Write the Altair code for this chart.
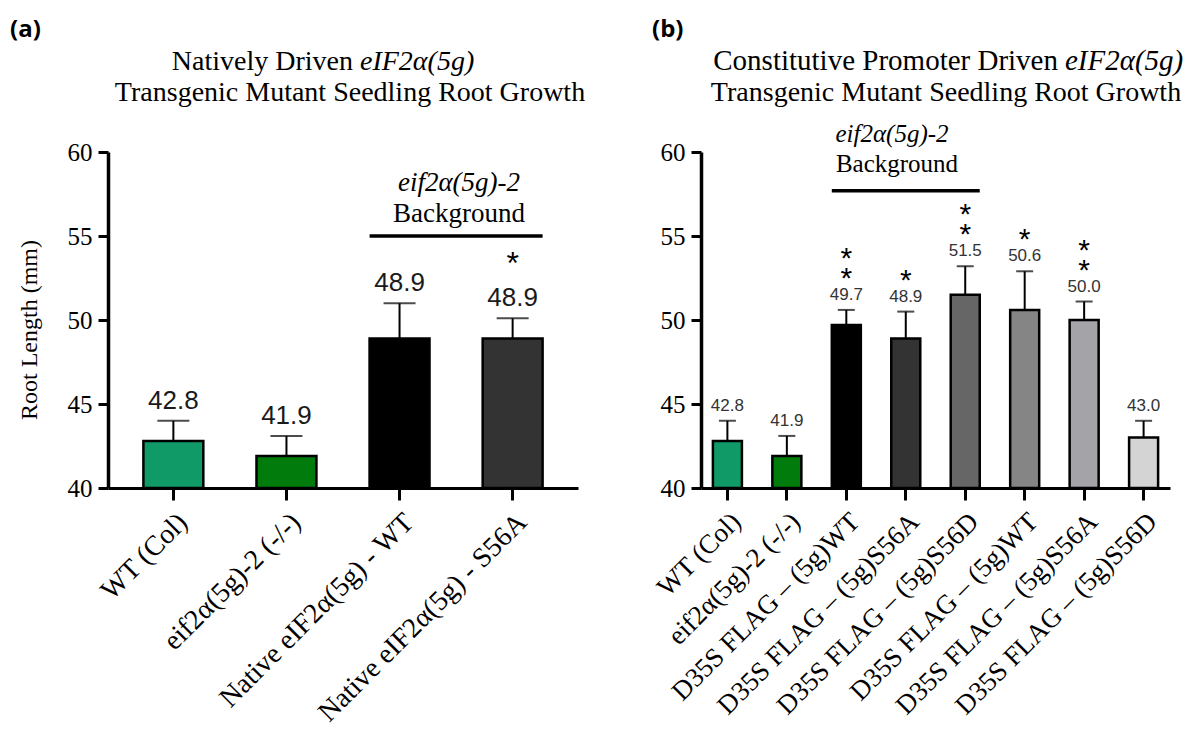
import json
import altair as alt
import pandas as pd

# ---------------- data ----------------
cats_a = ["a1", "a2", "a3", "a4"]
labels_a = ["WT (Col)", "eif2α(5g)-2 (-/-)", "Native eIF2α(5g) - WT", "Native eIF2α(5g) - S56A"]
means_a = [42.8, 41.9, 48.9, 48.9]
upper_a = [44.0, 43.1, 51.0, 50.1]
stars_a = [0, 0, 0, 1]
colors_a = ["#0f9a68", "#017c0c", "#000000", "#333333"]

cats_b = ["b1", "b2", "b3", "b4", "b5", "b6", "b7", "b8"]
labels_b = ["WT (Col)", "eif2α(5g)-2 (-/-)",
            "D35S FLAG – (5g)WT", "D35S FLAG – (5g)S56A", "D35S FLAG – (5g)S56D",
            "D35S FLAG – (5g)WT", "D35S FLAG – (5g)S56A", "D35S FLAG – (5g)S56D"]
means_b = [42.8, 41.9, 49.7, 48.9, 51.5, 50.6, 50.0, 43.0]
upper_b = [44.0, 43.1, 50.6, 50.5, 53.2, 52.9, 51.1, 44.0]
stars_b = [0, 0, 2, 1, 2, 1, 2, 0]
colors_b = ["#0f9a68", "#017c0c", "#000000", "#333333", "#666666", "#858585", "#a3a3a8", "#d4d4d4"]

y_ticks = [40, 45, 50, 55, 60]
y_domain = [40, 60]

# background bracket: first category, last category, y value
bg_a = ["a3", "a4", 55.0]
bg_b = ["b3", "b5", 57.7]

SERIF = "Liberation Serif"
SANS = "Liberation Sans"
H = 336


def text_layer(txt, x, y, size, font=SERIF, style="normal", align="center",
               weight="normal", baseline="alphabetic", color="black", angle=0):
    return alt.Chart(pd.DataFrame({"t": [txt]})).mark_text(
        font=font, fontSize=size, fontStyle=style, align=align, fontWeight=weight,
        baseline=baseline, color=color, angle=angle
    ).encode(x=alt.value(x), y=alt.value(y), text="t:N")


def panel(cats, labels, means, upper, stars, colors, W, p_in, p_out,
          cap, lab_size, lab_dy, lab_color, star_size, star_dy, star_lh,
          xlab_size, bg):
    df = pd.DataFrame({"cat": cats, "mean": means, "upper": upper, "stars": stars,
                       "startxt": ["\n".join(["*"] * s) for s in stars]})
    label_expr = (json.dumps(labels, ensure_ascii=False) + "[indexof("
                  + json.dumps(cats) + ", datum.value)]")
    xscale = alt.Scale(domain=cats, paddingInner=p_in, paddingOuter=p_out)
    x = alt.X("cat:N", sort=cats, scale=xscale, axis=alt.Axis(
        title=None, labelExpr=label_expr, labelAngle=-45, labelAlign="right",
        labelBaseline="top", labelFont=SERIF, labelFontSize=xlab_size,
        labelColor="black", labelPadding=8, labelLimit=0, domainColor="black",
        domainWidth=3, tickColor="black", tickWidth=3, tickSize=12, grid=False,
        labelOverlap=False))
    yscale = alt.Scale(domain=y_domain, nice=False, zero=False)
    yaxis = alt.Axis(title=None, values=y_ticks, labelFont=SERIF, labelFontSize=25,
                     labelColor="black", labelPadding=6, domainColor="black",
                     domainWidth=3.5, tickColor="black", tickWidth=3, tickSize=10,
                     grid=False)

    base = alt.Chart(df)
    err = base.mark_rule(color="black", strokeWidth=2).encode(
        x=x, y=alt.Y("mean:Q", scale=yscale, axis=yaxis), y2="upper:Q")
    bars = base.mark_bar(stroke="black", strokeWidth=2.5).encode(
        x=x, y=alt.Y("mean:Q", scale=yscale, axis=yaxis), y2=alt.datum(40),
        color=alt.Color("cat:N", scale=alt.Scale(domain=cats, range=colors), legend=None))
    caps = base.mark_tick(color="black", thickness=2, size=cap).encode(
        x=x, y=alt.Y("upper:Q", scale=yscale, axis=yaxis))
    vals = base.mark_text(font=SANS, fontSize=lab_size, baseline="alphabetic",
                          dy=lab_dy, color=lab_color).encode(
        x=x, y=alt.Y("upper:Q", scale=yscale, axis=yaxis),
        text=alt.Text("mean:Q", format=".1f"))
    layers = [err, bars, caps, vals]
    for n in (1, 2):
        layers.append(base.transform_filter(f"datum.stars == {n}").mark_text(
            font=SANS, fontSize=star_size, baseline="bottom",
            dy=star_dy - star_lh * (n - 1), lineBreak="\n", lineHeight=star_lh,
            color="black").encode(
            x=x, y=alt.Y("upper:Q", scale=yscale, axis=yaxis), text="startxt:N"))
    bgdf = pd.DataFrame({"c1": [bg[0]], "c2": [bg[1]], "yv": [bg[2]]})
    layers.append(alt.Chart(bgdf).mark_rule(color="black", strokeWidth=3.5).encode(
        x=alt.X("c1:N", sort=cats, scale=xscale, bandPosition=0),
        x2=alt.X2("c2", bandPosition=1),
        y=alt.Y("yv:Q", scale=yscale, axis=yaxis)))
    return layers, W


# ---------- panel (a) ----------
la, Wa = panel(cats_a, labels_a, means_a, upper_a, stars_a, colors_a, 470, 0.47, 0.313,
               32, 26, -12, "#1a1a1a", 32, -37, 22, 28, bg_a)
la += [
    alt.Chart(pd.DataFrame({"k": [0]})).mark_rect(opacity=0).encode(
        x=alt.value(-100), x2=alt.value(-99), y=alt.value(-144), y2=alt.value(-143)),
    text_layer("(a)", -98, -115, 24, font="Open Sans", weight="bold", align="left"),
    text_layer("Root Length (mm)", -78, 178, 24, baseline="middle", angle=270),
    text_layer("Natively Driven", 245, -82, 28, align="right"),
    text_layer("eIF2α(5g)", 252, -82, 28, style="italic", align="left"),
    text_layer("Transgenic Mutant Seedling Root Growth", 242, -51, 28),
    text_layer("eif2α(5g)-2", 351, 39, 27, style="italic"),
    text_layer("Background", 351, 70, 27),
]
pa = alt.layer(*la).properties(width=Wa, height=H)

# ---------- panel (b) ----------
lb, Wb = panel(cats_b, labels_b, means_b, upper_b, stars_b, colors_b, 469, 0.512, 0.2,
               17, 17, -10, "#333333", 30, -16, 20, 27, bg_b)
lb += [
    text_layer("(b)", -49, -115, 24, font="Open Sans", weight="bold", align="left"),
    text_layer("Constitutive Promoter Driven", 357, -82, 29, align="right"),
    text_layer("eIF2α(5g)", 364, -82, 29, style="italic", align="left"),
    text_layer("Transgenic Mutant Seedling Root Growth", 245, -51, 28),
    text_layer("eif2α(5g)-2", 191, -10, 25, style="italic"),
    text_layer("Background", 196, 20, 25),
]
pb = alt.layer(*lb).properties(width=Wb, height=H)

chart = alt.hconcat(pa, pb, spacing=123, bounds="flush").resolve_scale(
    color="independent"
).properties(
    padding=0, background="white"
).configure_view(stroke=None)

chart.save("out.html", embed_options={"renderer": "svg", "actions": False})
